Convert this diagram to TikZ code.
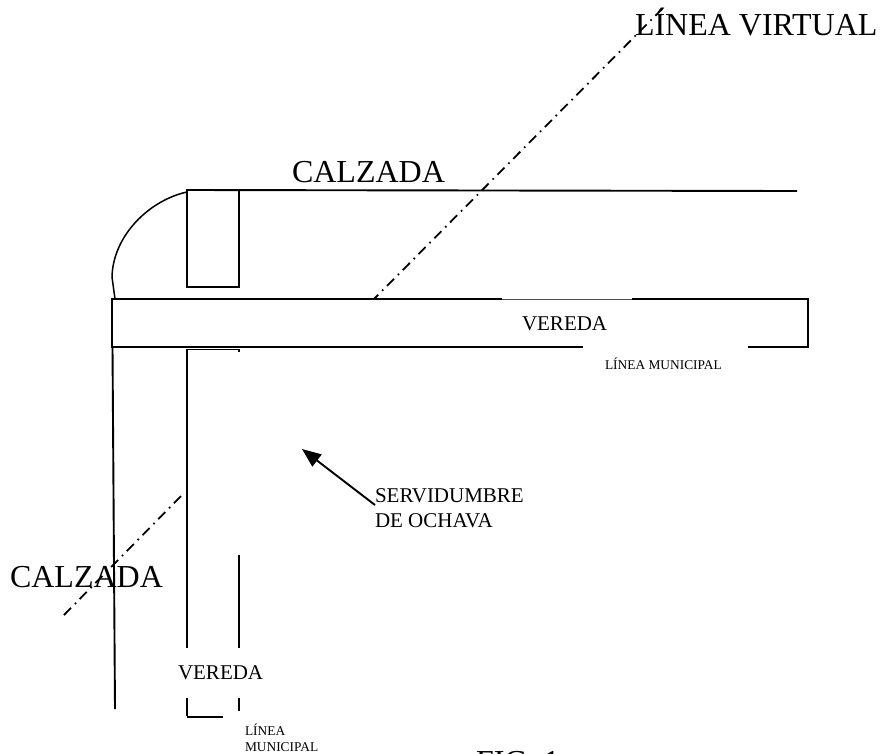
\documentclass[tikz,border=0pt]{standalone}
\usepackage{fontspec}
\setmainfont{Liberation Serif}
\usetikzlibrary{arrows.meta}
\tikzset{
  x=1pt,y=-1pt,
  wall/.style={line width=1.9pt,black},
  thinwall/.style={line width=0.8pt,black!70},
  virtual/.style={line width=1.8pt,black,dash pattern=on 10pt off 5.5pt on 1.6pt off 5.3pt},
  lbl/.style={anchor=base west,inner sep=0pt,outer sep=0pt,text=black},
  big/.style={lbl,font=\fontsize{32}{32}\selectfont},
  mid/.style={lbl,font=\fontsize{21}{25}\selectfont},
  tiny/.style={lbl,font=\fontsize{13.4}{16}\selectfont},
}
\begin{document}
\begin{tikzpicture}
\useasboundingbox (0,0) rectangle (881,753);
\clip (0,0) rectangle (881,753);
% virtual lines
\draw[virtual,dash phase=4pt] (374,299) -- (664,7);
\draw[virtual] (64,615) -- (183,494);
% kerb of upper carriageway
\draw[wall] (187,190) -- (797,191);
\draw[wall] (187,190) rectangle (239,287);
\draw[line width=1.5pt] (187,192) .. controls (150,200) and (113,235) .. (112,277) -- (115,299);
% sidewalk strip
\draw[wall] (502,299) -- (112,299) -- (112,347) -- (583,347);
\draw[thinwall] (502,299) -- (632,299);
\draw[wall] (632,299) -- (808,299) -- (808,347) -- (748,347);
% lower carriageway and sidewalk
\draw[wall] (112.5,347) -- (115,709);
\draw[wall] (187,716) -- (187,698);
\draw[wall] (187,648) -- (187,349.5) -- (239,349.5) -- (239,352);
\draw[wall] (187,717) -- (223,717);
\draw[wall] (239,555) -- (239,648);
\draw[wall] (239,698) -- (239,711);
% arrow
\coordinate (arrowstart) at (375,505);
\coordinate (arrowend) at (302,449);
\draw[line width=1.9pt,-{Triangle[length=19pt,width=15pt]}] (arrowstart) -- (arrowend);
% labels
\node[big] (calzadaA) at (292,182) {CALZADA};
\node[big] (calzadaB) at (10,587) {CALZADA};
\node[big] (virtuallabel) at (635,35) {LÍNEA VIRTUAL};
\node[mid] (veredaA) at (522,330) {VEREDA};
\node[mid] (veredaB) at (178,679) {VEREDA};
\node[tiny] (municipalA) at (605,369) {LÍNEA MUNICIPAL};
\node[mid] (servA) at (375,502) {SERVIDUMBRE};
\node[mid] (servB) at (375,527) {DE OCHAVA};
\node[tiny] (municipalB) at (245,735) {LÍNEA};
\node[tiny] (municipalC) at (245,751) {MUNICIPAL};
\node[big] (fig) at (476,772) {FIG. 1};
\end{tikzpicture}
\end{document}
